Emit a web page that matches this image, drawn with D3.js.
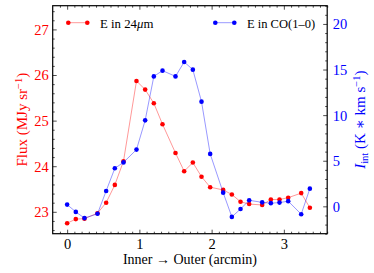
<!DOCTYPE html>
<html><head><meta charset="utf-8">
<script src="https://cdn.jsdelivr.net/npm/d3@7"></script>
<style>body{margin:0;background:#fff}svg{display:block}text{font-family:"Liberation Serif","DejaVu Serif",serif}</style>
</head><body>
<svg id="c" width="374" height="273"></svg>
<script>
const xPos = [0, 0.12, 0.24, 0.42, 0.54, 0.66, 0.78, 0.96, 1.08, 1.20, 1.32, 1.50, 1.62, 1.74, 1.86, 1.98, 2.16, 2.28, 2.40, 2.52, 2.70, 2.82, 2.94, 3.06, 3.24, 3.36];
const flux24 = [22.75, 22.84, 22.85, 22.97, 23.20, 23.59, 24.11, 25.87, 25.68, 25.38, 24.92, 24.29, 23.89, 24.08, 23.77, 23.54, 23.48, 23.38, 23.22, 23.17, 23.15, 23.27, 23.27, 23.31, 23.41, 23.09];
const intCO = [0.19, -0.61, -1.29, -0.82, 1.69, 4.17, 4.82, 6.22, 9.43, 14.25, 14.88, 14.25, 15.83, 14.99, 11.48, 5.75, 1.50, -1.16, -0.29, 0.66, 0.44, 0.35, 0.41, 0.57, -0.86, 1.94];
const xTicks = [0, 1, 2, 3];
const yLeftTicks = [23, 24, 25, 26, 27];
const yRightTicks = [0, 5, 10, 15, 20];

const svg = d3.select("#c");
const L = 52.7, R = 327.2, T = 5.7, B = 233.7;
const x = d3.scaleLinear().domain([-0.2, 3.6]).range([L, R]);
const yL = d3.scaleLinear().domain([22.52, 27.52]).range([B, T]);
const yR = d3.scaleLinear().domain([-3, 22]).range([B, T]);
const RED = "#ff0000", BLUE = "#0000ff";
const notInt = v => Math.abs(v - Math.round(v)) > 1e-6;
const xMinor = d3.range(-0.1, 3.61, 0.1).filter(notInt);

// bottom
const gB = svg.append("g").attr("transform", `translate(0,${B})`);
gB.call(d3.axisBottom(x).tickValues(xMinor).tickSize(-2).tickFormat(""));
gB.call(g => g.append("g").call(d3.axisBottom(x).tickValues(xTicks).tickSize(-4).tickPadding(5).tickFormat(d3.format("d"))));
// top
const gT = svg.append("g").attr("transform", `translate(0,${T})`);
gT.call(d3.axisTop(x).tickValues(xMinor).tickSize(-2).tickFormat(""));
gT.call(g => g.append("g").call(d3.axisTop(x).tickValues(xTicks).tickSize(-4).tickFormat("")));
// left
const gL = svg.append("g").attr("transform", `translate(${L},0)`);
gL.call(d3.axisLeft(yL).tickValues(d3.range(22.6, 27.51, 0.2).filter(notInt)).tickSize(-2).tickFormat(""));
gL.call(g => g.append("g").call(d3.axisLeft(yL).tickValues(yLeftTicks).tickSize(-4).tickPadding(4).tickFormat(d3.format("d"))));
// right
const gR = svg.append("g").attr("transform", `translate(${R},0)`);
gR.call(d3.axisRight(yR).tickValues(d3.range(-3, 22.1, 1).filter(v => v % 5 !== 0)).tickSize(-2).tickFormat(""));
gR.call(g => g.append("g").call(d3.axisRight(yR).tickValues(yRightTicks).tickSize(-4).tickPadding(5.5).tickFormat(d3.format("d"))));

svg.selectAll(".domain").remove();
svg.selectAll(".tick line").attr("stroke", "#000").attr("stroke-width", 0.7);
svg.selectAll(".tick text").attr("font-size", "14.5px").attr("font-family", "Liberation Serif");
gB.selectAll(".tick text").attr("fill", "#000");
gL.selectAll(".tick text").attr("fill", RED).attr("dy", "0.34em");
gR.selectAll(".tick text").attr("fill", BLUE).attr("dy", "0.34em");

svg.append("rect").attr("x", L).attr("y", T).attr("width", R - L).attr("height", B - T)
  .attr("fill", "none").attr("stroke", "#000").attr("stroke-width", 1.2);

const data = xPos.map((d, i) => ({x: d, f: flux24[i], c: intCO[i]}));
const lineF = d3.line().x(d => x(d.x)).y(d => yL(d.f));
const lineC = d3.line().x(d => x(d.x)).y(d => yR(d.c));
svg.append("path").datum(data).attr("d", lineF).attr("fill", "none").attr("stroke", RED).attr("stroke-opacity", 0.45).attr("stroke-width", 0.9);
svg.append("g").selectAll("circle").data(data).join("circle").attr("cx", d => x(d.x)).attr("cy", d => yL(d.f)).attr("r", 2.3).attr("fill", RED);
svg.append("path").datum(data).attr("d", lineC).attr("fill", "none").attr("stroke", BLUE).attr("stroke-opacity", 0.45).attr("stroke-width", 0.9);
svg.append("g").selectAll("circle").data(data).join("circle").attr("cx", d => x(d.x)).attr("cy", d => yR(d.c)).attr("r", 2.3).attr("fill", BLUE);

// legends
function legend(x0, col, y0) {
  svg.append("line").attr("x1", x0).attr("x2", x0 + 19).attr("y1", y0).attr("y2", y0).attr("stroke", col).attr("stroke-opacity", 0.45).attr("stroke-width", 0.9);
  [x0, x0 + 19].forEach(cx => svg.append("circle").attr("cx", cx).attr("cy", y0).attr("r", 2.3).attr("fill", col));
}
legend(68.3, RED, 22.7);
legend(215.3, BLUE, 22.7);
const t1 = svg.append("text").attr("x", 100).attr("y", 27.8).attr("font-size", "12.8px").attr("fill", "#000");
t1.append("tspan").text("E in 24");
t1.append("tspan").attr("font-style", "italic").text("μ");
t1.append("tspan").text("m");
svg.append("text").attr("x", 247).attr("y", 27.8).attr("font-size", "12.5px").attr("fill", "#000").text("E in CO(1–0)");

// axis labels
svg.append("text").attr("x", (L + R) / 2).attr("y", 263.5).attr("text-anchor", "middle").attr("font-size", "14px").attr("fill", "#000").text("Inner → Outer (arcmin)");
const yl = svg.append("text").attr("transform", `translate(27,${(T + B) / 2}) rotate(-90)`).attr("text-anchor", "middle").attr("font-size", "15px").attr("fill", RED);
yl.append("tspan").text("Flux (MJy sr");
yl.append("tspan").attr("font-size", "10.5px").attr("dy", "-5.5").text("−1");
yl.append("tspan").attr("dy", "5.5").text(")");
const yr = svg.append("text").attr("transform", `translate(365,${(T + B) / 2}) rotate(-90)`).attr("text-anchor", "middle").attr("font-size", "15px").attr("fill", BLUE);
yr.append("tspan").attr("font-style", "italic").text("I");
yr.append("tspan").attr("font-size", "10.5px").attr("dy", "3").text("int");
yr.append("tspan").attr("dy", "-3").text(" (K ∗ km s");
yr.append("tspan").attr("font-size", "10.5px").attr("dy", "-5.5").text("−1");
yr.append("tspan").attr("dy", "5.5").text(")");
</script>
</body></html>
